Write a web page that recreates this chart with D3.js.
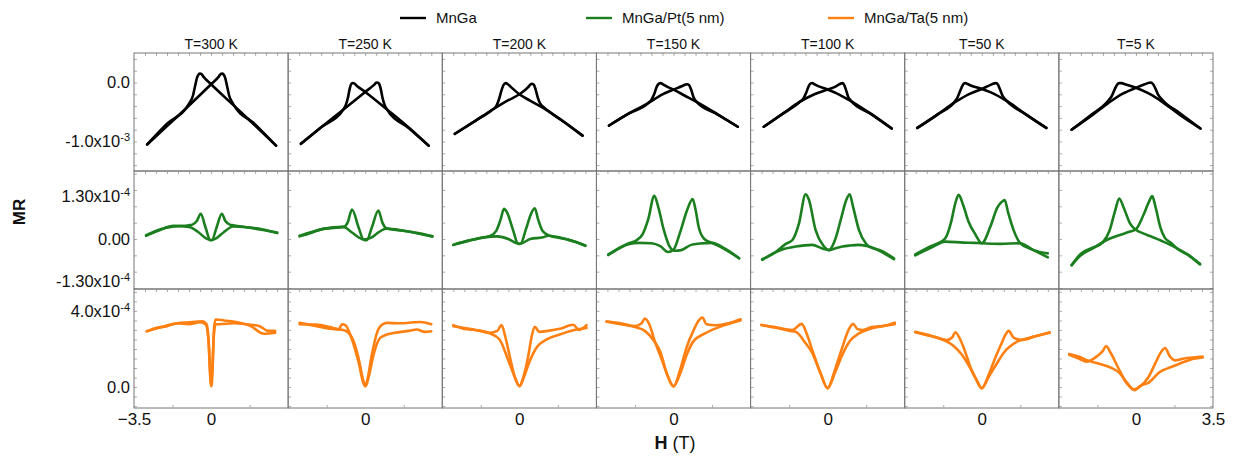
<!DOCTYPE html>
<html>
<head>
<meta charset="utf-8">
<script src="https://cdn.jsdelivr.net/npm/d3@7"></script>
<style>
  body { margin: 0; background: #fff; }
  text { font-family: "Liberation Sans", Arial, sans-serif; fill: #111; }
</style>
</head>
<body>
<svg id="chart" width="1237" height="461"></svg>
<script>
  // column titles
  const temps = ["T=300 K", "T=250 K", "T=200 K", "T=150 K", "T=100 K", "T=50 K", "T=5 K"];
  const seriesNames = ["MnGa", "MnGa/Pt(5 nm)", "MnGa/Ta(5 nm)"];
  const seriesColors = ["#000000", "#1b7f1f", "#ff8012"];

  // MnGa, MR in units of 1e-3, [H (T), MR]
  // "up" = field sweep -H -> +H (peak at +Hc), "down" = +H -> -H
  const mngaUp = [
    [[-2.9,-1.05],[-2.0,-0.74],[-1.0,-0.39],[0,-0.03],[0.35,0.10],[0.44,0.145],[0.5,0.15],[0.57,0.135],[0.64,0.08],[0.72,-0.05],[0.82,-0.22],[1.0,-0.36],[2.0,-0.71],[2.95,-1.07]],
    [[-2.92,-1.04],[-2.0,-0.76],[-1.0,-0.46],[0,-0.16],[0.4,-0.04],[0.5,-0.005],[0.56,0.0],[0.63,-0.02],[0.7,-0.1],[0.78,-0.25],[0.88,-0.38],[0.98,-0.45],[2.0,-0.78],[2.88,-1.07]],
    [[-2.93,-0.87],[-2.0,-0.65],[-1.26,-0.47],[-0.5,-0.3],[0,-0.2],[0.4,-0.08],[0.5,-0.035],[0.58,-0.02],[0.66,-0.04],[0.74,-0.12],[0.84,-0.26],[0.95,-0.36],[1.08,-0.41],[2.0,-0.66],[2.87,-0.90]],
    [[-2.93,-0.73],[-2.0,-0.52],[-1.15,-0.35],[-0.5,-0.2],[0,-0.12],[0.4,-0.06],[0.55,-0.035],[0.64,-0.03],[0.72,-0.05],[0.8,-0.12],[0.9,-0.24],[1.05,-0.33],[2.0,-0.54],[2.92,-0.75]],
    [[-2.9,-0.75],[-2.0,-0.52],[-1.27,-0.33],[-0.6,-0.2],[0,-0.12],[0.4,-0.06],[0.58,-0.02],[0.67,-0.01],[0.75,-0.04],[0.83,-0.12],[0.93,-0.24],[1.04,-0.30],[2.0,-0.54],[2.91,-0.78]],
    [[-2.93,-0.77],[-2.0,-0.54],[-1.2,-0.33],[-0.6,-0.2],[0,-0.11],[0.4,-0.04],[0.56,-0.015],[0.65,-0.01],[0.74,-0.04],[0.83,-0.12],[0.95,-0.23],[1.1,-0.3],[2.0,-0.54],[2.93,-0.77]],
    [[-2.92,-0.80],[-2.0,-0.56],[-1.26,-0.35],[-0.6,-0.19],[0,-0.09],[0.4,-0.03],[0.6,-0.005],[0.68,0.0],[0.78,-0.03],[0.88,-0.1],[1.0,-0.2],[1.24,-0.31],[2.0,-0.52],[2.93,-0.78]]
  ];
  const mngaDown = [
    [[-2.9,-1.05],[-2.0,-0.70],[-1.0,-0.36],[-0.82,-0.22],[-0.72,-0.05],[-0.64,0.08],[-0.57,0.135],[-0.5,0.15],[-0.44,0.145],[-0.35,0.1],[0,-0.03],[1.0,-0.38],[2.0,-0.73],[2.95,-1.07]],
    [[-2.92,-1.04],[-2.0,-0.76],[-0.98,-0.45],[-0.88,-0.38],[-0.78,-0.25],[-0.7,-0.1],[-0.63,-0.02],[-0.56,-0.01],[-0.5,-0.015],[-0.4,-0.05],[0,-0.16],[1.0,-0.46],[2.0,-0.77],[2.88,-1.07]],
    [[-2.93,-0.87],[-2.0,-0.65],[-1.26,-0.47],[-1.05,-0.4],[-0.92,-0.28],[-0.8,-0.12],[-0.7,-0.03],[-0.61,-0.01],[-0.52,-0.03],[-0.4,-0.07],[0,-0.2],[0.5,-0.31],[1.08,-0.43],[2.0,-0.66],[2.87,-0.90]],
    [[-2.93,-0.73],[-2.0,-0.52],[-1.15,-0.35],[-1.0,-0.29],[-0.88,-0.2],[-0.76,-0.07],[-0.66,-0.02],[-0.58,-0.01],[-0.48,-0.03],[-0.4,-0.05],[0,-0.12],[0.5,-0.22],[1.05,-0.33],[2.0,-0.54],[2.92,-0.75]],
    [[-2.9,-0.75],[-2.0,-0.52],[-1.27,-0.33],[-1.1,-0.27],[-0.97,-0.17],[-0.86,-0.06],[-0.77,-0.015],[-0.7,-0.01],[-0.6,-0.03],[-0.5,-0.05],[0,-0.12],[0.5,-0.2],[1.04,-0.31],[2.0,-0.54],[2.91,-0.78]],
    [[-2.93,-0.77],[-2.0,-0.54],[-1.2,-0.31],[-1.1,-0.25],[-0.98,-0.14],[-0.87,-0.05],[-0.8,-0.015],[-0.75,-0.01],[-0.65,-0.025],[-0.5,-0.05],[0,-0.11],[0.6,-0.2],[1.2,-0.33],[2.0,-0.54],[2.93,-0.77]],
    [[-2.92,-0.80],[-2.0,-0.54],[-1.26,-0.31],[-1.1,-0.23],[-0.97,-0.12],[-0.86,-0.04],[-0.76,-0.01],[-0.66,-0.01],[-0.5,-0.03],[0,-0.09],[0.6,-0.19],[1.24,-0.34],[2.0,-0.55],[2.93,-0.78]]
  ];

  // MnGa/Pt, MR in units of 1e-4
  const ptUp = [
    [[-2.95,0.10],[-2.4,0.25],[-1.7,0.40],[-1.0,0.37],[-0.6,0.22],[-0.25,0.03],[0.03,-0.04],[0.25,0.35],[0.49,0.77],[0.65,0.55],[0.85,0.44],[1.0,0.42],[1.6,0.36],[2.3,0.3],[3.0,0.18]],
    [[-2.98,0.08],[-2.4,0.2],[-1.9,0.31],[-1.0,0.37],[-0.6,0.2],[-0.3,0.05],[0.07,-0.04],[0.3,0.35],[0.6,0.87],[0.78,0.5],[0.98,0.32],[1.74,0.25],[2.4,0.18],[3.05,0.08]],
    [[-3.0,-0.18],[-2.3,-0.05],[-1.6,0.05],[-1.0,0.08],[-0.5,0.0],[-0.15,-0.12],[0.05,-0.15],[0.3,0.3],[0.55,0.8],[0.70,0.94],[0.85,0.6],[1.05,0.25],[1.31,0.12],[2.15,-0.01],[2.6,-0.1],[3.0,-0.21]],
    [[-2.96,-0.49],[-2.5,-0.3],[-2.0,-0.15],[-1.6,-0.12],[-1.0,-0.13],[-0.6,-0.22],[-0.25,-0.40],[0.0,-0.33],[0.3,0.2],[0.6,0.85],[0.87,1.22],[1.0,0.9],[1.15,0.35],[1.4,0.0],[1.75,-0.12],[2.3,-0.3],[2.98,-0.59]],
    [[-2.97,-0.64],[-2.5,-0.45],[-2.06,-0.32],[-1.45,-0.23],[-0.7,-0.18],[-0.24,-0.29],[0.06,-0.34],[0.35,0.0],[0.6,0.6],[0.85,1.2],[1.0,1.37],[1.15,1.0],[1.42,0.28],[1.73,-0.13],[1.88,-0.23],[2.4,-0.35],[3.01,-0.59]],
    [[-3.02,-0.5],[-2.34,-0.28],[-1.66,-0.08],[-0.83,-0.11],[-0.3,-0.12],[0,-0.13],[0.39,0.38],[0.7,0.95],[0.88,1.12],[1.04,1.19],[1.2,0.8],[1.44,0.28],[1.75,-0.13],[2.35,-0.34],[3.0,-0.56]],
    [[-2.92,-0.80],[-2.5,-0.5],[-1.94,-0.28],[-1.33,-0.03],[-0.73,0.12],[-0.3,0.22],[0,0.30],[0.35,0.75],[0.6,1.15],[0.74,1.31],[0.9,0.95],[1.1,0.38],[1.3,0.05],[1.6,-0.12],[1.85,-0.28],[2.4,-0.5],[2.91,-0.76]]
  ];
  const ptDown = [
    [[-2.95,0.12],[-2.3,0.3],[-1.7,0.38],[-1.0,0.42],[-0.85,0.44],[-0.65,0.55],[-0.47,0.77],[-0.25,0.35],[-0.03,-0.04],[0.25,0.03],[0.6,0.22],[1.0,0.38],[1.6,0.36],[2.3,0.28],[3.0,0.2]],
    [[-2.98,0.1],[-2.4,0.22],[-1.9,0.31],[-0.98,0.37],[-0.8,0.5],[-0.6,0.90],[-0.3,0.35],[-0.07,-0.02],[0.3,0.05],[0.6,0.2],[0.98,0.32],[1.74,0.25],[2.4,0.17],[3.05,0.08]],
    [[-3.0,-0.18],[-2.3,-0.05],[-1.6,0.05],[-1.34,0.09],[-1.05,0.25],[-0.85,0.6],[-0.70,0.92],[-0.55,0.8],[-0.3,0.3],[-0.05,-0.15],[0.15,-0.12],[0.5,0.0],[1.07,0.05],[1.31,0.1],[2.15,-0.01],[2.6,-0.1],[3.0,-0.2]],
    [[-2.96,-0.47],[-2.4,-0.25],[-2.0,-0.12],[-1.7,-0.05],[-1.4,0.15],[-1.15,0.6],[-0.87,1.32],[-0.7,1.0],[-0.45,0.3],[-0.2,-0.2],[0.05,-0.36],[0.35,-0.34],[0.8,-0.18],[1.2,-0.14],[1.75,-0.12],[2.3,-0.28],[2.98,-0.59]],
    [[-2.97,-0.62],[-2.4,-0.42],[-1.9,-0.15],[-1.6,-0.03],[-1.3,0.48],[-1.0,1.37],[-0.85,1.2],[-0.55,0.28],[-0.2,-0.2],[0.06,-0.34],[0.3,-0.3],[0.67,-0.23],[1.0,-0.2],[1.42,-0.18],[1.88,-0.23],[2.4,-0.38],[3.01,-0.62]],
    [[-3.02,-0.47],[-2.34,-0.23],[-1.66,0.02],[-1.4,0.5],[-1.2,1.1],[-1.05,1.35],[-0.85,1.05],[-0.6,0.53],[-0.3,0.15],[0,-0.13],[0.84,-0.15],[1.75,-0.13],[2.35,-0.34],[3.0,-0.44]],
    [[-2.92,-0.80],[-2.5,-0.45],[-1.94,-0.26],[-1.5,-0.1],[-1.2,0.25],[-0.95,0.85],[-0.76,1.24],[-0.55,0.95],[-0.27,0.48],[0,0.28],[0.3,0.18],[0.64,0.09],[1.24,-0.08],[1.85,-0.28],[2.4,-0.5],[2.91,-0.78]]
  ];

  // MnGa/Ta, MR in units of 1e-4
  const taUp = [
    [[-2.92,2.93],[-2.5,3.1],[-2.0,3.2],[-1.5,3.35],[-1.0,3.3],[-0.5,3.4],[-0.25,3.3],[-0.12,2.5],[-0.04,0.6],[0.0,0.05],[0.05,0.8],[0.12,2.6],[0.2,3.3],[0.4,3.3],[1.0,3.35],[1.6,3.3],[2.2,3.2],[2.6,2.95],[2.91,2.95]],
    [[-2.98,3.37],[-2.2,3.2],[-1.5,3.05],[-1.0,3.0],[-0.6,2.6],[-0.3,1.5],[-0.08,0.3],[0,0.04],[0.1,0.4],[0.3,1.7],[0.55,2.9],[0.8,3.3],[1.0,3.37],[1.6,3.35],[2.2,3.4],[2.5,3.42],[3.0,3.3]],
    [[-3.0,3.2],[-2.5,3.1],[-2.0,3.0],[-1.34,2.82],[-0.9,2.5],[-0.5,1.4],[-0.2,0.5],[0,0.05],[0.2,0.6],[0.4,1.6],[0.55,2.6],[0.7,3.17],[0.9,2.9],[1.3,2.95],[1.84,3.06],[2.45,3.27],[2.7,3.0],[3.05,3.25]],
    [[-3.04,3.44],[-2.4,3.3],[-1.75,3.15],[-1.3,2.95],[-0.9,2.45],[-0.6,1.85],[-0.3,0.7],[0,0.02],[0.3,0.9],[0.6,2.1],[0.9,2.95],[1.15,3.5],[1.31,3.65],[1.5,3.3],[1.9,3.25],[2.5,3.35],[3.05,3.56]],
    [[-3.01,3.26],[-2.3,3.1],[-1.7,2.95],[-1.45,2.9],[-1.0,2.3],[-0.7,1.8],[-0.35,0.8],[0,-0.07],[0.3,0.8],[0.67,2.1],[0.95,3.0],[1.15,3.32],[1.35,3.05],[1.6,3.0],[2.0,3.15],[2.5,3.2],[3.05,3.38]],
    [[-3.02,2.88],[-2.4,2.7],[-1.9,2.55],[-1.28,2.16],[-0.9,1.7],[-0.6,1.15],[-0.3,0.5],[0,-0.07],[0.3,0.6],[0.6,1.5],[0.9,2.3],[1.1,2.8],[1.22,2.95],[1.45,2.6],[1.83,2.47],[2.4,2.65],[3.08,2.88]],
    [[-3.03,1.74],[-2.6,1.6],[-2.2,1.4],[-1.6,1.2],[-1.18,1.04],[-0.73,0.72],[-0.42,0.25],[-0.1,-0.12],[0.15,0.0],[0.56,0.5],[0.9,1.3],[1.15,1.85],[1.32,2.05],[1.55,1.6],[1.8,1.4],[2.2,1.5],[2.6,1.55],[3.03,1.6]]
  ];
  const taDown = [
    [[-2.92,2.93],[-2.4,3.1],[-1.8,3.3],[-1.0,3.4],[-0.4,3.45],[-0.2,3.3],[-0.1,2.2],[-0.03,0.5],[0.02,0.05],[0.07,1.0],[0.13,3.0],[0.2,3.55],[0.6,3.5],[1.2,3.4],[1.8,3.2],[2.4,2.8],[2.91,2.85]],
    [[-2.98,3.3],[-2.2,3.28],[-1.6,3.15],[-1.2,3.05],[-1.05,3.3],[-0.9,3.25],[-0.6,2.5],[-0.3,1.3],[-0.08,0.2],[0.02,0.04],[0.15,0.5],[0.4,1.8],[0.7,2.6],[1.29,2.84],[2.0,2.95],[2.35,3.02],[2.7,2.9],[3.0,2.93]],
    [[-3.0,3.25],[-2.5,3.05],[-2.0,3.0],[-1.34,2.85],[-1.0,2.95],[-0.81,3.26],[-0.65,2.7],[-0.43,1.58],[-0.2,0.5],[0.02,0.05],[0.2,0.5],[0.45,1.3],[0.8,2.1],[1.24,2.5],[1.8,2.75],[2.5,3.0],[3.05,3.1]],
    [[-3.04,3.44],[-2.4,3.35],[-1.75,3.2],[-1.45,3.35],[-1.3,3.6],[-1.1,3.3],[-0.85,2.4],[-0.55,1.5],[-0.3,0.7],[0.0,0.05],[0.3,0.7],[0.6,1.7],[0.9,2.4],[1.43,2.82],[2.19,3.2],[2.6,3.35],[3.05,3.5]],
    [[-3.01,3.26],[-2.4,3.15],[-1.6,3.0],[-1.18,3.32],[-0.95,2.8],[-0.7,1.95],[-0.32,0.72],[0,-0.05],[0.35,0.8],[0.67,1.7],[1.0,2.4],[1.42,2.82],[1.9,3.05],[2.33,3.17],[3.05,3.3]],
    [[-3.02,2.9],[-2.3,2.7],[-1.58,2.47],[-1.35,2.6],[-1.2,2.88],[-1.0,2.55],[-0.8,2.0],[-0.5,1.0],[-0.2,0.3],[0,-0.05],[0.3,0.5],[0.69,1.25],[1.0,1.8],[1.6,2.38],[2.2,2.6],[3.08,2.85]],
    [[-3.03,1.7],[-2.6,1.5],[-2.24,1.33],[-1.79,1.6],[-1.5,1.9],[-1.36,2.16],[-1.15,1.8],[-0.8,1.0],[-0.42,0.2],[-0.05,-0.16],[0.18,0.05],[0.6,0.25],[1.09,0.8],[1.6,1.05],[2.0,1.24],[2.5,1.45],[3.03,1.55]]
  ];

  // y-axis domains per row (same units as the data) and labelled ticks
  const rowDomains = [[-1.5, 0.5], [-1.53, 2.08], [-1.1, 5.15]];
  const rowTickValues = [[0, -1], [1.3, 0, -1.3], [4, 0]];
  const rowTickLabels = [
    [["0.0", ""], ["-1.0x10", "-3"]],
    [["1.30x10", "-4"], ["0.00", ""], ["-1.30x10", "-4"]],
    [["4.0x10", "-4"], ["0.0", ""]]
  ];
  const rowData = [[mngaUp, mngaDown], [ptUp, ptDown], [taUp, taDown]];

  const svg = d3.select("#chart");

  const left = 134, right = 1213;
  const rowTops = [53, 171, 289];
  const rowBottoms = [171, 289, 408];
  const panelW = (right - left) / temps.length;
  const xDomain = [-3.5, 3.5];

  // legend
  const legendX = [400, 586, 828];
  const legend = svg.append("g");
  seriesNames.forEach((name, i) => {
    legend.append("line")
      .attr("x1", legendX[i]).attr("x2", legendX[i] + 26)
      .attr("y1", 18).attr("y2", 18)
      .attr("stroke", seriesColors[i]).attr("stroke-width", 2.4);
    legend.append("text")
      .attr("x", legendX[i] + 36).attr("y", 23)
      .attr("font-size", "15px")
      .text(name);
  });

  // column titles
  temps.forEach((t, c) => {
    svg.append("text")
      .attr("x", left + panelW * (c + 0.5))
      .attr("y", 49)
      .attr("text-anchor", "middle")
      .attr("font-size", "14px")
      .text(t);
  });

  rowData.forEach((branches, r) => {
    const y = d3.scaleLinear().domain(rowDomains[r]).range([rowBottoms[r], rowTops[r]]);

    temps.forEach((t, c) => {
      const x = d3.scaleLinear().domain(xDomain).range([left + c * panelW, left + (c + 1) * panelW]);
      const g = svg.append("g");

      // faint minor ticks along the frame
      g.append("g")
        .attr("transform", `translate(0,${rowTops[r]})`)
        .call(d3.axisTop(x).tickValues(d3.range(-3, 3.01, 0.5)).tickSize(-3).tickFormat(""))
        .call(a => a.select(".domain").remove())
        .selectAll("line").attr("stroke", "#aaa");
      g.append("g")
        .attr("transform", `translate(${x(-3.5)},0)`)
        .call(d3.axisLeft(y).ticks(10).tickSize(-3).tickFormat(""))
        .call(a => a.select(".domain").remove())
        .selectAll("line").attr("stroke", "#aaa");
      if (c === temps.length - 1) {
        g.append("g")
          .attr("transform", `translate(${x(3.5)},0)`)
          .call(d3.axisRight(y).ticks(10).tickSize(-3).tickFormat(""))
          .call(a => a.select(".domain").remove())
          .selectAll("line").attr("stroke", "#aaa");
      }

      // frame
      g.append("rect")
        .attr("x", x(-3.5)).attr("y", rowTops[r])
        .attr("width", x(3.5) - x(-3.5)).attr("height", rowBottoms[r] - rowTops[r])
        .attr("fill", "none").attr("stroke", "#777").attr("stroke-width", 1);

      const line = d3.line()
        .x(d => x(d[0]))
        .y(d => y(d[1]))
        .curve(d3.curveMonotoneX);

      branches.forEach(b => {
        g.append("path")
          .datum(b[c])
          .attr("fill", "none")
          .attr("stroke", seriesColors[r])
          .attr("stroke-width", 2.6)
          .attr("stroke-linejoin", "round")
          .attr("stroke-linecap", "round")
          .attr("d", line);
      });

      // y tick labels on first column
      if (c === 0) {
        const labels = rowTickLabels[r];
        const ax = g.append("g")
          .attr("transform", `translate(${x(-3.5)},0)`)
          .call(d3.axisLeft(y).tickValues(rowTickValues[r]).tickSize(0).tickPadding(4));
        ax.select(".domain").remove();
        ax.selectAll("text")
          .attr("font-size", "16.5px")
          .attr("font-family", '"Liberation Sans", Arial, sans-serif')
          .attr("fill", "#111")
          .each(function (d, i) {
            const el = d3.select(this).text(null);
            el.append("tspan").text(labels[i][0]);
            if (labels[i][1]) {
              el.append("tspan").attr("dy", "-0.55em").attr("font-size", "11px").text(labels[i][1]);
            }
          });
      }

      // x tick labels on the bottom row
      if (r === rowData.length - 1) {
        const vals = [0];
        if (c === 0) vals.unshift(-3.5);
        if (c === temps.length - 1) vals.push(3.5);
        const ax = g.append("g")
          .attr("transform", `translate(0,${rowBottoms[r]})`)
          .call(d3.axisBottom(x).tickValues(vals).tickSize(0).tickPadding(5).tickFormat(d => d === 0 ? "0" : d3.format(".1f")(d)));
        ax.select(".domain").remove();
        ax.selectAll("text")
          .attr("font-size", "17px")
          .attr("font-family", '"Liberation Sans", Arial, sans-serif')
          .attr("fill", "#111");
        // faint minor ticks on the bottom edge
        g.append("g")
          .attr("transform", `translate(0,${rowBottoms[r]})`)
          .call(d3.axisBottom(x).tickValues([-1.75, 1.75]).tickSize(-3).tickFormat(""))
          .call(a => a.select(".domain").remove())
          .selectAll("line").attr("stroke", "#aaa");
      }
    });
  });

  // axis titles
  svg.append("text")
    .attr("transform", "translate(25,212) rotate(-90)")
    .attr("text-anchor", "middle")
    .attr("font-size", "17px")
    .attr("font-weight", "bold")
    .text("MR");

  const xt = svg.append("text")
    .attr("x", 675).attr("y", 449)
    .attr("text-anchor", "middle")
    .attr("font-size", "18px");
  xt.append("tspan").attr("font-weight", "bold").text("H");
  xt.append("tspan").text(" (T)");
</script>
</body>
</html>
